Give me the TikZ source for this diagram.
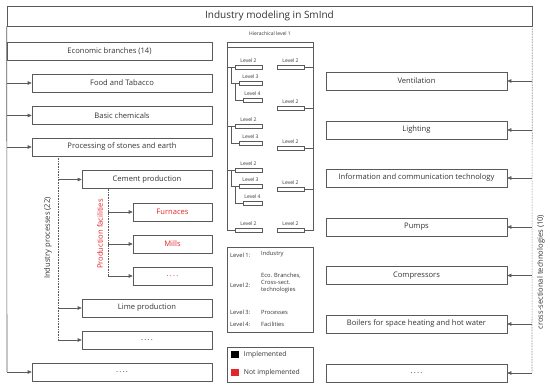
\documentclass[tikz,border=0pt]{standalone}
\usepackage{fontspec}
\setmainfont{Open Sans}
\usetikzlibrary{arrows.meta}
\definecolor{line-gray}{HTML}{5A5A5A}
\definecolor{text-gray}{HTML}{333333}
\definecolor{not-impl}{HTML}{E3262B}

\begin{document}
\begin{tikzpicture}[x=1pt, y=-1pt,
        every node/.style={font=\fontsize{7.6}{8.5}\selectfont, text=text-gray},
        box/.style={draw=line-gray, line width=0.6pt, minimum height=18pt, inner sep=0pt},
        lvbox/.style={draw=line-gray, line width=0.5pt, minimum height=4pt, inner sep=0pt},
        lvtext/.style={font=\fontsize{5}{5.5}\selectfont, inner sep=0pt, above=2pt},
        legtext/.style={font=\fontsize{5.8}{7}\selectfont, inner sep=0pt, anchor=west, align=left},
        arr/.style={-{Triangle[length=4pt, width=3.5pt]}, draw=line-gray, line width=0.6pt},
        dots/.style={draw=line-gray, densely dotted, line width=0.6pt}]
      \useasboundingbox (0,0) rectangle (550,390);
      % title and main lines
      \node[draw=line-gray, line width=0.6pt, minimum width=525pt, minimum height=20pt, inner sep=0pt,
            font=\fontsize{10}{12}\selectfont] (title) at (269.5,16) {Industry modeling in SmInd};
      \coordinate (leftend) at (7,372);
      \coordinate (rightend) at (532,373);
      \draw[line-gray, line width=0.6pt] (title.south west) -- (leftend);
      \draw[dots] (title.south east) -- (rightend);
      % economic branches
      \node[box, minimum width=205pt] (econ) at (109.5,51) {Economic branches (14)};
      \node[box, minimum width=180pt] (food) at (122,83) {Food and Tabacco};
      \node[box, minimum width=180pt] (chem) at (122,115.5) {Basic chemicals};
      \node[box, minimum width=180pt] (stones) at (122,147) {Processing of stones and earth};
      \node[box, minimum width=180pt] (branchdots) at (122,372) {.\,.\,.\,.};
      \draw[arr] (food.west -| leftend) -- (food.west);
      \draw[arr] (chem.west -| leftend) -- (chem.west);
      \draw[arr] (stones.west -| leftend) -- (stones.west);
      \draw[arr] (leftend) -- (branchdots.west);
      % industry processes
      \node[box, minimum width=130pt] (cement) at (147,179.5) {Cement production};
      \node[box, minimum width=130pt] (lime) at (147,308) {Lime production};
      \node[box, minimum width=130pt] (procdots) at (147,340) {.\,.\,.\,.};
      \coordinate (procline) at (58,340);
      \draw[dots] (stones.south -| procline) -- (procline);
      \draw[arr] (cement.west -| procline) -- (cement.west);
      \draw[arr] (lime.west -| procline) -- (lime.west);
      \draw[arr] (procline) -- (procdots.west);
      \node[rotate=90] (proclabel) at (48,238) {Industry processes (22)};
      % production facilities
      \node[box, minimum width=79pt, text=not-impl] (furnaces) at (172.5,212) {Furnaces};
      \node[box, minimum width=79pt, text=not-impl] (mills) at (172.5,244) {Mills};
      \node[box, minimum width=79pt, text=not-impl] (facdots) at (172.5,276) {.\,.\,.\,.};
      \coordinate (facline) at (108,276);
      \draw[dots] (cement.south -| facline) -- (facline);
      \draw[arr] (furnaces.west -| facline) -- (furnaces.west);
      \draw[arr] (mills.west -| facline) -- (mills.west);
      \draw[arr] (facline) -- (facdots.west);
      \node[rotate=90, text=not-impl] (faclabel) at (100,234) {Production facilities};
      % cross-sectional technologies
      \node[box, minimum width=181pt] (vent) at (416.5,81) {Ventilation};
      \node[box, minimum width=181pt] (light) at (416.5,130) {Lighting};
      \node[box, minimum width=181pt] (ict) at (416.5,178) {Information and communication technology};
      \node[box, minimum width=181pt] (pumps) at (416.5,227) {Pumps};
      \node[box, minimum width=181pt] (compr) at (416.5,275.5) {Compressors};
      \node[box, minimum width=181pt] (boilers) at (416.5,324) {Boilers for space heating and hot water};
      \node[box, minimum width=181pt] (techdots) at (416.5,373) {.\,.\,.\,.};
      \draw[arr] (vent.east -| rightend) -- (vent.east);
      \draw[arr] (light.east -| rightend) -- (light.east);
      \draw[arr] (ict.east -| rightend) -- (ict.east);
      \draw[arr] (pumps.east -| rightend) -- (pumps.east);
      \draw[arr] (compr.east -| rightend) -- (compr.east);
      \draw[arr] (boilers.east -| rightend) -- (boilers.east);
      \draw[arr] (rightend) -- (techdots.east);
      \node[rotate=90] (techlabel) at (541,272) {cross-sectional technologies (10)};
      % hierarchy scheme
      \node[font=\fontsize{5}{5.5}\selectfont] (hiertitle) at (270,34) {Hierachical level 1};
      \node[lvbox, minimum width=86pt, minimum height=5pt] (hdr) at (270,44.5) {};
      \node[lvbox, minimum width=27pt] (la2) at (248.5,67) {};
      \node[lvbox, minimum width=23pt] (la3) at (250.5,83.5) {};
      \node[lvbox, minimum width=19pt] (la4) at (252.5,100) {};
      \node[lvbox, minimum width=27pt] (lb2) at (248.5,126) {};
      \node[lvbox, minimum width=23pt] (lb3) at (250.5,143) {};
      \node[lvbox, minimum width=27pt] (lc2) at (248.5,170) {};
      \node[lvbox, minimum width=23pt] (lc3) at (250.5,186.5) {};
      \node[lvbox, minimum width=19pt] (lc4) at (252.5,203) {};
      \node[lvbox, minimum width=27pt] (ld2) at (248.5,230) {};
      \node[lvbox, minimum width=27pt] (ra2) at (290.5,67) {};
      \node[lvbox, minimum width=27pt] (rb2) at (290.5,108) {};
      \node[lvbox, minimum width=27pt] (rc2) at (290.5,148) {};
      \node[lvbox, minimum width=27pt] (rd2) at (290.5,189) {};
      \node[lvbox, minimum width=27pt] (re2) at (290.5,230) {};
      \foreach \b/\t in {la2/Level 2, la3/Level 3, la4/Level 4, lb2/Level 2, lb3/Level 3,
                         lc2/Level 2, lc3/Level 3, lc4/Level 4, ld2/Level 2,
                         ra2/Level 2, rb2/Level 2, rc2/Level 2, rd2/Level 2, re2/Level 2}
        \node[lvtext] at (\b.north) {\t};
      \draw[line-gray, line width=0.5pt] (hdr.south west) |- (ld2.west);
      \draw[line-gray, line width=0.5pt] (hdr.south east) |- (re2.east);
      \draw[line-gray, line width=0.5pt] (la2.west -| hdr.west) -- (la2.west);
      \draw[line-gray, line width=0.5pt] (lb2.west -| hdr.west) -- (lb2.west);
      \draw[line-gray, line width=0.5pt] (lc2.west -| hdr.west) -- (lc2.west);
      \draw[line-gray, line width=0.5pt] ([xshift=4pt]la2.west -| hdr.west) |- (la3.west);
      \draw[line-gray, line width=0.5pt] ([xshift=-4pt]la3.west) |- (la4.west);
      \draw[line-gray, line width=0.5pt] ([xshift=4pt]lb2.west -| hdr.west) |- (lb3.west);
      \draw[line-gray, line width=0.5pt] ([xshift=4pt]lc2.west -| hdr.west) |- (lc3.west);
      \draw[line-gray, line width=0.5pt] ([xshift=-4pt]lc3.west) |- (lc4.west);
      \draw[line-gray, line width=0.5pt] (ra2.east) -- (ra2.east -| hdr.east);
      \draw[line-gray, line width=0.5pt] (rb2.east) -- (rb2.east -| hdr.east);
      \draw[line-gray, line width=0.5pt] (rc2.east) -- (rc2.east -| hdr.east);
      \draw[line-gray, line width=0.5pt] (rd2.east) -- (rd2.east -| hdr.east);
      % legend of levels
      \node[lvbox, minimum width=86pt, minimum height=85pt] (levlegend) at (270,289.5) {};
      \node[legtext] at (230,255.5) {Level 1:};
      \node[legtext] at (261,254) {Industry};
      \node[legtext] at (230,285) {Level 2:};
      \node[legtext] at (261,282.5) {Eco. Branches,\\Cross-sect.\\technologies};
      \node[legtext] at (230,312) {Level 3:};
      \node[legtext] at (261,312) {Processes};
      \node[legtext] at (230,324) {Level 4:};
      \node[legtext] at (261,324) {Facilities};
      % legend of colours
      \node[lvbox, minimum width=86pt, minimum height=35pt] (collegend) at (270,364.5) {};
      \node[fill=black, minimum width=8pt, minimum height=7pt, inner sep=0pt] (implsq) at (234.5,355) {};
      \node[fill=not-impl, minimum width=8pt, minimum height=7pt, inner sep=0pt] (notsq) at (234.5,373) {};
      \node[anchor=west, inner sep=0pt, font=\fontsize{6.8}{7.5}\selectfont] at ([xshift=5pt]implsq.east) {Implemented};
      \node[anchor=west, inner sep=0pt, font=\fontsize{6.8}{7.5}\selectfont] at ([xshift=5pt]notsq.east) {Not implemented};
    \end{tikzpicture}
\end{document}
